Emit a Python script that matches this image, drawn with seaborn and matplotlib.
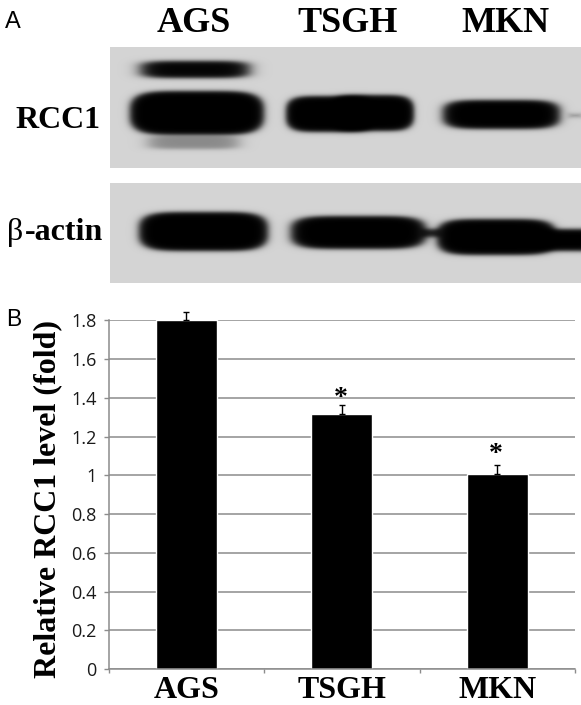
import numpy as np
import pandas as pd
import matplotlib
matplotlib.use("Agg")
import matplotlib.pyplot as plt
import seaborn as sns

W, H = 581, 705
SERIF = "Liberation Serif"
SANS = "Liberation Sans"

# Panel B data
cell_lines = ["AGS", "TSGH", "MKN"]
rcc1_level = [1.80, 1.318, 1.007]
rcc1_error = [0.045, 0.045, 0.046]
significant = [False, True, True]
star_offset = [0, -4, -1.5]
y_ticks = [0, 0.2, 0.4, 0.6, 0.8, 1, 1.2, 1.4, 1.6, 1.8]
y_tick_labels = ["0", "0.2", "0.4", "0.6", "0.8", "1", "1.2", "1.4", "1.6", "1.8"]

# Panel A blot bands: left, right, top, bottom (px), darkness
rcc1_bands = [
    (141, 249, 61, 78, 0.98),
    (130, 264, 91, 135, 1.0),
    (149, 238, 136, 149, 0.35),
    (286, 375, 96, 132, 1.0),
    (330, 414, 95, 131, 1.0),
    (443, 560, 100, 129, 1.0),
    (570, 581, 114, 117, 0.30),
]
actin_bands = [
    (139, 268, 212, 251, 1.0),
    (291, 426, 216, 249, 1.0),
    (420, 442, 229, 237, 0.85),
    (437, 556, 219, 255, 1.0),
    (530, 605, 229, 251, 1.0),
]
rcc1_panel = (110, 581, 47, 168, 0.83)
actin_panel = (110, 581, 183, 283, 0.83)


def axes_px(fig, left, right, top, bottom):
    return fig.add_axes([left / W, 1 - bottom / H, (right - left) / W, (bottom - top) / H])


def blot(panel, bands):
    left, right, top, bottom, bg = panel
    xx, yy = np.meshgrid(np.arange(left, right) + 0.5, np.arange(top, bottom) + 0.5)
    keep = np.ones_like(xx)
    for x0, x1, y0, y1, dark in bands:
        cx, cy = (x0 + x1) / 2, (y0 + y1) / 2
        a, b = (x1 - x0) / 2, (y1 - y0) / 2
        r = ((np.abs(xx - cx) / a) ** 5 + (np.abs(yy - cy) / b) ** 3) ** (1 / 3)
        d = 1 / (1 + np.exp((r - 1) * min(a, b) / 1.2))
        keep *= 1 - dark * d
    return bg * keep


sns.set_theme(style="white")
fig = plt.figure(figsize=(W / 100, H / 100), dpi=100, facecolor="white")

for panel, bands in [(rcc1_panel, rcc1_bands), (actin_panel, actin_bands)]:
    ax_b = axes_px(fig, panel[0], panel[1], panel[2], panel[3])
    sns.heatmap(blot(panel, bands), ax=ax_b, cmap="gray", vmin=0, vmax=1, cbar=False,
                xticklabels=False, yticklabels=False)
    ax_b.set_xlabel("")
    ax_b.set_ylabel("")


def ftext(x, y, s, **kw):
    fig.text(x / W, 1 - y / H, s, **kw)


bold = dict(family=SERIF, weight="bold", color="black", va="center")
for x, s in zip([194, 348, 505], cell_lines):
    ftext(x, 23, s, ha="center", fontsize=26, **bold)
ftext(58, 120, "RCC1", ha="center", fontsize=23, **bold)
ftext(7, 233, "β", ha="left", fontsize=23, family=SERIF, color="black", va="center")
ftext(103, 232, "-actin", ha="right", fontsize=23, **bold)
ftext(5, 22, "A", ha="left", va="center", fontsize=17, family=SANS, color="black")
ftext(6, 320, "B", ha="left", va="center", fontsize=16.5, family=SANS, color="black")

# Panel B chart
ax = axes_px(fig, 108.5, 575, 320.3, 669)
frame = pd.DataFrame({"line": cell_lines, "level": rcc1_level})
ax.set_axisbelow(True)
ax.yaxis.grid(True, color="#8c8c8c", lw=1.1)
ax.xaxis.grid(False)
sns.barplot(data=frame, x="line", y="level", color="black", width=0.395, saturation=1, ax=ax, zorder=2)
ax.errorbar(range(3), rcc1_level, yerr=[[0] * 3, rcc1_error], fmt="none", ecolor="black",
            elinewidth=1, capsize=2.5, capthick=1, clip_on=False, zorder=3)
for i, (v, e, star, off) in enumerate(zip(rcc1_level, rcc1_error, significant, star_offset)):
    if star:
        ax.annotate("*", (i, v + e), xytext=(-0.7, off), textcoords="offset points", ha="center", va="bottom",
                    fontsize=20, family=SERIF, weight="bold", color="black", annotation_clip=False)
ax.set_xlim(-0.5, 2.5)
ax.set_ylim(0, 1.8)
ax.set_yticks(y_ticks, y_tick_labels, family="Open Sans", fontsize=13, color="#1a1a1a")
ax.set_xticks(range(3), cell_lines, family=SERIF, weight="bold", fontsize=23, color="black")
ax.set_xticks([-0.5, 0.5, 1.5, 2.5], minor=True)
ax.tick_params(axis="x", which="major", length=0, pad=5)
ax.tick_params(axis="x", which="minor", length=3, width=1, color="#8c8c8c", bottom=True)
ax.tick_params(axis="y", length=3.5, width=1, color="#8c8c8c", left=True, pad=5)
ax.set_xlabel("")
ax.set_ylabel("")
for side, sp in ax.spines.items():
    sp.set_visible(side in ("left", "bottom"))
    sp.set_color("#8c8c8c")
    sp.set_linewidth(1.1)
ftext(48, 499, "Relative RCC1 level (fold)", ha="center", rotation=90, fontsize=23, **bold)

fig.savefig("out.png", dpi=100, facecolor="white")
